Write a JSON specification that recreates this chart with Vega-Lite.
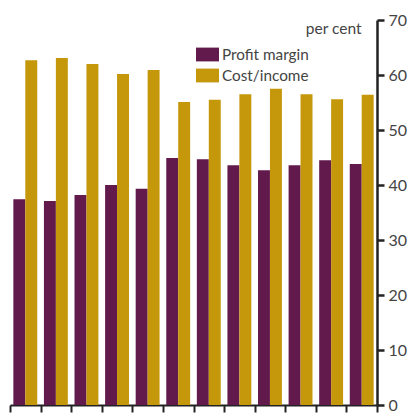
{
  "$schema": "https://vega.github.io/schema/vega-lite/v6.json",
  "width": 367,
  "height": 385,
  "autosize": "none",
  "padding": {"left": 10, "top": 20, "right": 38, "bottom": 11},
  "background": "white",
  "config": {"view": {"stroke": null}, "font": "Lato"},
  "data": {
    "values": [
      {"g": 1, "series": "Profit margin", "v": 37.4},
      {"g": 2, "series": "Profit margin", "v": 37.1},
      {"g": 3, "series": "Profit margin", "v": 38.2},
      {"g": 4, "series": "Profit margin", "v": 40.0},
      {"g": 5, "series": "Profit margin", "v": 39.3},
      {"g": 6, "series": "Profit margin", "v": 44.9},
      {"g": 7, "series": "Profit margin", "v": 44.7},
      {"g": 8, "series": "Profit margin", "v": 43.6},
      {"g": 9, "series": "Profit margin", "v": 42.7},
      {"g": 10, "series": "Profit margin", "v": 43.6},
      {"g": 11, "series": "Profit margin", "v": 44.5},
      {"g": 12, "series": "Profit margin", "v": 43.8},
      {"g": 1, "series": "Cost/income", "v": 62.7},
      {"g": 2, "series": "Cost/income", "v": 63.1},
      {"g": 3, "series": "Cost/income", "v": 62.0},
      {"g": 4, "series": "Cost/income", "v": 60.2},
      {"g": 5, "series": "Cost/income", "v": 60.9},
      {"g": 6, "series": "Cost/income", "v": 55.1},
      {"g": 7, "series": "Cost/income", "v": 55.5},
      {"g": 8, "series": "Cost/income", "v": 56.5},
      {"g": 9, "series": "Cost/income", "v": 57.5},
      {"g": 10, "series": "Cost/income", "v": 56.5},
      {"g": 11, "series": "Cost/income", "v": 55.6},
      {"g": 12, "series": "Cost/income", "v": 56.4}
    ]
  },
  "mark": {"type": "bar"},
  "encoding": {
    "x": {
      "field": "g",
      "type": "ordinal",
      "scale": {"paddingInner": 0, "paddingOuter": 0},
      "axis": {
        "title": null,
        "labels": false,
        "tickBand": "extent",
        "domainColor": "#222",
        "domainWidth": 2,
        "tickColor": "#222",
        "tickWidth": 2,
        "tickSize": 7
      }
    },
    "xOffset": {
      "field": "series",
      "type": "nominal",
      "sort": ["Profit margin", "Cost/income"],
      "scale": {"paddingInner": 0, "paddingOuter": 0.28}
    },
    "y": {
      "field": "v",
      "type": "quantitative",
      "scale": {"domain": [0, 70], "nice": false},
      "axis": {
        "orient": "right",
        "values": [0, 10, 20, 30, 40, 50, 60, 70],
        "grid": false,
        "domainColor": "#222",
        "domainWidth": 2.5,
        "tickColor": "#222",
        "tickWidth": 2.5,
        "tickSize": 7,
        "labelFontSize": 16,
        "labelColor": "#444",
        "labelPadding": 4,
        "title": "per cent",
        "titleAngle": 0,
        "titleAlign": "right",
        "titleBaseline": "alphabetic",
        "titleX": -16,
        "titleY": 13,
        "titleFontSize": 15.5,
        "titleFontWeight": "normal",
        "titleColor": "#444"
      }
    },
    "color": {
      "field": "series",
      "type": "nominal",
      "sort": ["Profit margin", "Cost/income"],
      "scale": {"domain": ["Profit margin", "Cost/income"], "range": ["#621A4C", "#C5970A"]},
      "legend": {
        "title": null,
        "orient": "none",
        "legendX": 186,
        "legendY": 23,
        "symbolType": "M-1,-0.6H1V0.6H-1Z",
        "symbolSize": 529,
        "symbolStrokeWidth": 0,
        "labelFontSize": 15.3,
        "labelColor": "#444",
        "labelOffset": 3,
        "rowPadding": 1
      }
    }
  }
}
